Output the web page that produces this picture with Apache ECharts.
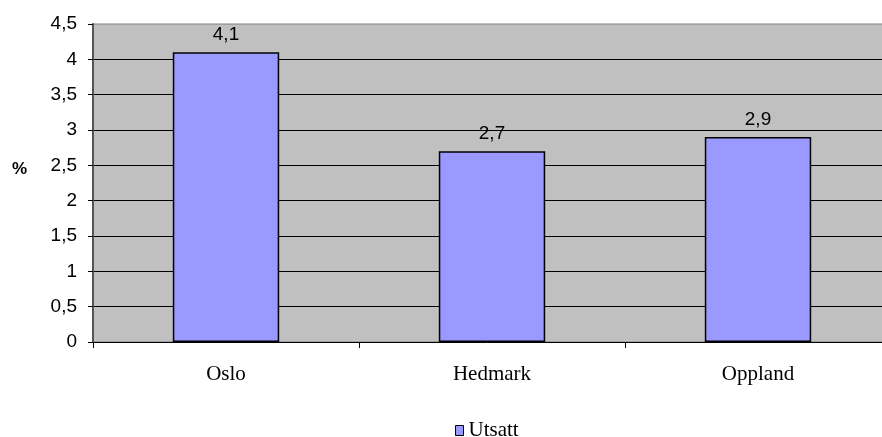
<!DOCTYPE html>
<html>
<head>
<meta charset="utf-8">
<script src="https://cdn.jsdelivr.net/npm/echarts@6/dist/echarts.min.js"></script>
<style>html,body{margin:0;padding:0;background:#fff}#c{width:882px;height:437px}</style>
</head>
<body>
<div id="c"></div>
<script>
const categories = ['Oslo', 'Hedmark', 'Oppland'];
const seriesName = 'Utsatt';
const values = [4.1, 2.7, 2.9];
const yTicks = { min: 0, max: 4.5, interval: 0.5 };
const yAxisName = '%';

const fmt = v => String(v).replace('.', ',');
const chart = echarts.init(document.getElementById('c'), null, { renderer: 'canvas' });
chart.setOption({
  animation: false,
  backgroundColor: '#ffffff',
  grid: { left: 93, top: 24, width: 798, height: 318, outerBoundsMode: 'none', containLabel: false, show: true, backgroundColor: '#C0C0C0', borderColor: '#808080', borderWidth: 1 },
  legend: {
    data: [seriesName], left: 450, top: 415, icon: 'rect', itemWidth: 8, itemHeight: 10, itemGap: 5,
    textStyle: { fontFamily: 'Liberation Serif', fontSize: 21, color: '#000' },
    itemStyle: { borderColor: '#000', borderWidth: 1 }
  },
  graphic: [{
    type: 'text', left: 12, top: 161,
    style: { text: yAxisName, fontFamily: 'Liberation Sans', fontSize: 17, fontWeight: 'bold', fill: '#000' }
  }],
  xAxis: {
    type: 'category', data: categories, boundaryGap: true,
    axisLine: { show: true, lineStyle: { color: '#000', width: 1 } },
    axisTick: { show: true, length: 6, lineStyle: { color: '#000' } },
    axisLabel: { fontFamily: 'Liberation Serif', fontSize: 21, color: '#000', margin: 22 },
    splitLine: { show: false }
  },
  yAxis: {
    type: 'value', min: yTicks.min, max: yTicks.max, interval: yTicks.interval,
    axisLine: { show: true, lineStyle: { color: '#555', width: 2 } },
    axisTick: { show: true, length: 5, lineStyle: { color: '#000' } },
    axisLabel: { fontFamily: 'Liberation Sans', fontSize: 19, color: '#000', margin: 16, formatter: fmt },
    splitLine: { show: true, showMaxLine: false, showMinLine: false, lineStyle: { color: '#000', width: 1 } }
  },
  series: [{
    name: seriesName, type: 'bar', data: values, barWidth: '40%',
    itemStyle: { color: '#9999FF', borderColor: '#000', borderWidth: 1.5 },
    label: { show: true, position: 'top', distance: 8, fontFamily: 'Liberation Sans', fontSize: 19, color: '#000', formatter: p => fmt(p.value) }
  }]
});
</script>
</body>
</html>
